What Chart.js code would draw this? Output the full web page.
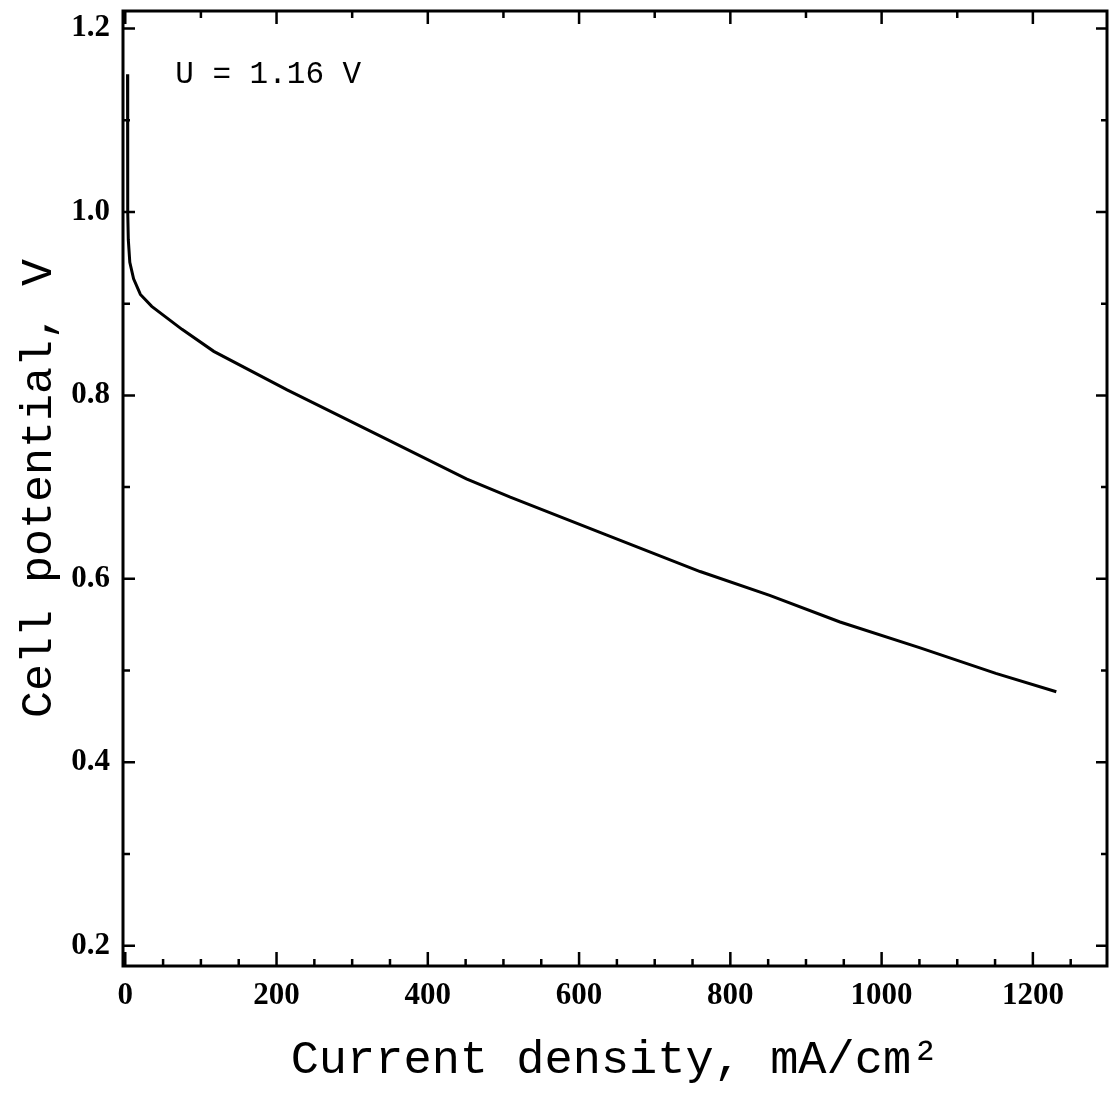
<!DOCTYPE html>
<html>
<head>
<meta charset="utf-8">
<script src="https://cdn.jsdelivr.net/npm/chart.js@4.4.1/dist/chart.umd.min.js"></script>
<style>
  html, body { margin: 0; padding: 0; background: #fff; }
  #wrap { width: 1111px; height: 1095px; }
</style>
</head>
<body>
<div id="wrap"><canvas id="polarization" width="1111" height="1095"></canvas></div>
<script>
// polarization curve
const currentDensity = [3, 3, 3.5, 4, 6, 11, 20, 35, 75, 117, 214, 346, 451, 509, 636, 760, 852, 945, 1050, 1151, 1231];
const cellPotential = [1.15, 1.06, 1.0, 0.97, 0.945, 0.927, 0.91, 0.897, 0.872, 0.848, 0.806, 0.752, 0.709, 0.689, 0.648, 0.608, 0.582, 0.553, 0.525, 0.497, 0.477];

// tick values
const xMajorTicks = [0, 200, 400, 600, 800, 1000, 1200];
const xMinorBottom = [50, 100, 150, 250, 300, 350, 450, 500, 550, 650, 700, 750, 850, 900, 950, 1050, 1100, 1150, 1250];
const xMinorTop = [100, 300, 500, 700, 900, 1100];
const yMajorTicks = [0.2, 0.4, 0.6, 0.8, 1.0, 1.2];
const yMinorTicks = [0.3, 0.5, 0.7, 0.9, 1.1];

const annotationText = 'U = 1.16 V';
const annotationAt = { x: 66, y: 1.14 };

const points = currentDensity.map((x, i) => ({ x: x, y: cellPotential[i] }));

// frame, inward ticks and the U label
const framePlugin = {
  id: 'frame',
  afterDraw(chart) {
    const ctx = chart.ctx;
    const a = chart.chartArea;
    const xs = chart.scales.x;
    const ys = chart.scales.y;
    ctx.save();
    ctx.strokeStyle = '#000';
    ctx.lineWidth = 3;
    ctx.strokeRect(a.left, a.top, a.right - a.left, a.bottom - a.top);

    ctx.lineWidth = 2.5;
    ctx.beginPath();
    xMajorTicks.forEach(v => {
      const px = xs.getPixelForValue(v);
      ctx.moveTo(px, a.bottom); ctx.lineTo(px, a.bottom - 14);
      ctx.moveTo(px, a.top); ctx.lineTo(px, a.top + 13);
    });
    xMinorBottom.forEach(v => {
      const px = xs.getPixelForValue(v);
      ctx.moveTo(px, a.bottom); ctx.lineTo(px, a.bottom - 7);
    });
    xMinorTop.forEach(v => {
      const px = xs.getPixelForValue(v);
      ctx.moveTo(px, a.top); ctx.lineTo(px, a.top + 7);
    });
    yMajorTicks.forEach(v => {
      const py = ys.getPixelForValue(v);
      ctx.moveTo(a.left, py); ctx.lineTo(a.left + 12, py);
      ctx.moveTo(a.right, py); ctx.lineTo(a.right - 11, py);
    });
    yMinorTicks.forEach(v => {
      const py = ys.getPixelForValue(v);
      ctx.moveTo(a.left, py); ctx.lineTo(a.left + 7, py);
      ctx.moveTo(a.right, py); ctx.lineTo(a.right - 6, py);
    });
    ctx.stroke();

    ctx.fillStyle = '#000';
    ctx.font = '31px "Liberation Mono", "DejaVu Sans Mono", monospace';
    ctx.textBaseline = 'alphabetic';
    ctx.textAlign = 'left';
    ctx.fillText(annotationText, xs.getPixelForValue(annotationAt.x), ys.getPixelForValue(annotationAt.y));
    ctx.restore();
  }
};

const tickFont = { family: '"Liberation Serif", "Times New Roman", serif', size: 31, weight: 'bold' };

new Chart(document.getElementById('polarization'), {
  type: 'scatter',
  data: {
    datasets: [{
      data: points,
      showLine: true,
      borderColor: '#000',
      borderWidth: 3,
      pointRadius: 0,
      tension: 0,
      fill: false
    }]
  },
  options: {
    responsive: false,
    animation: false,
    layout: { padding: { top: 11, right: 4, left: 0, bottom: 0 } },
    plugins: {
      legend: { display: false },
      tooltip: { enabled: false }
    },
    scales: {
      x: {
        type: 'linear',
        min: -3,
        max: 1298,
        afterFit(scale) {
          scale.height = 129;
          scale.paddingLeft = 0;
          scale.paddingRight = 0;
        },
        afterBuildTicks(scale) { scale.ticks = xMajorTicks.map(v => ({ value: v })); },
        grid: { display: false, drawTicks: false },
        border: { display: false },
        ticks: {
          padding: 11,
          color: '#000',
          font: tickFont,
          maxRotation: 0,
          callback: v => String(v)
        },
        title: {
          display: true,
          text: 'Current density, mA/cm²',
          color: '#000',
          font: { family: '"Liberation Mono", "DejaVu Sans Mono", monospace', size: 47 },
          padding: { top: 0, bottom: 6 }
        }
      },
      y: {
        type: 'linear',
        min: 0.178,
        max: 1.219,
        afterFit(scale) {
          scale.width = 123;
          scale.paddingTop = 0;
          scale.paddingBottom = 0;
        },
        afterBuildTicks(scale) { scale.ticks = yMajorTicks.map(v => ({ value: v })); },
        grid: { display: false, drawTicks: false },
        border: { display: false },
        ticks: {
          padding: 13,
          color: '#000',
          font: tickFont,
          callback: v => v.toFixed(1)
        },
        title: {
          display: true,
          text: 'Cell potential, V',
          color: '#000',
          font: { family: '"Liberation Mono", "DejaVu Sans Mono", monospace', size: 45 },
          padding: { top: 12, bottom: 0 }
        }
      }
    }
  },
  plugins: [framePlugin]
});
</script>
</body>
</html>
